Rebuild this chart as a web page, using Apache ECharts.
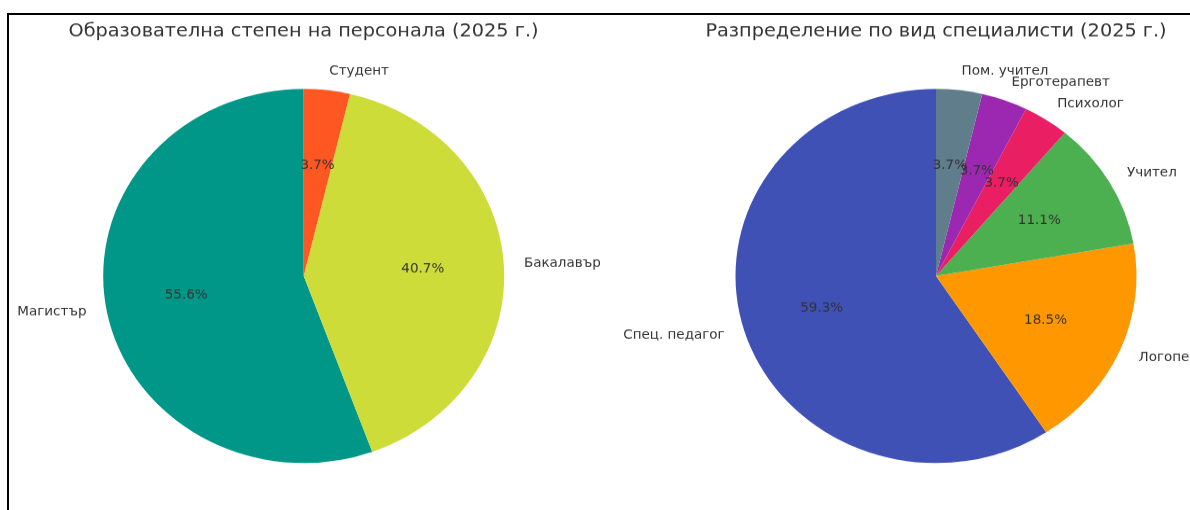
<!DOCTYPE html>
<html>
<head>
<meta charset="utf-8">
<script src="https://cdn.jsdelivr.net/npm/echarts@6/dist/echarts.min.js"></script>
<style>
  html, body { margin: 0; padding: 0; background: #fff; overflow: hidden; }
  #wrap { position: relative; width: 1190px; height: 510px; overflow: hidden; }
  #chart { position: absolute; left: 0; top: 0; width: 1190px; height: 547px; transform: scaleY(0.933); transform-origin: 0 0; }
  #frame { position: absolute; left: 7px; top: 13px; width: 1300px; height: 600px; border-left: 2px solid #000; border-top: 2.5px solid #000; pointer-events: none; }
</style>
</head>
<body>
<div id="wrap">
  <div id="chart"></div>
  <div id="frame"></div>
</div>
<script>
// ---- data ----
const titleEducation = 'Образователна степен на персонала (2025 г.)';
const titleSpecialists = 'Разпределение по вид специалисти (2025 г.)';

const educationLabels = ['Магистър', 'Бакалавър', 'Студент'];
const educationValues = [15, 11, 1];
const educationColors = ['#009688', '#CDDC39', '#FF5722'];

const specialistLabels = ['Спец. педагог', 'Логопед', 'Учител', 'Психолог', 'Ерготерапевт', 'Пом. учител'];
const specialistValues = [16, 5, 3, 1, 1, 1];
const specialistColors = ['#3F51B5', '#FF9800', '#4CAF50', '#E91E63', '#9C27B0', '#607D8B'];

// ---- layout ----
const R = 200.5;
const CY = 295.8;
const FONT = 'DejaVu Sans';

function pieSeries(labels, values, colors, cx) {
  const total = values.reduce((a, b) => a + b, 0);
  const data = labels.map((n, i) => ({ name: n, value: values[i], itemStyle: { color: colors[i] } }));
  const common = {
    type: 'pie',
    center: [cx, CY],
    startAngle: 90,
    clockwise: false,
    avoidLabelOverlap: false,
    animation: false,
    emphasis: { disabled: true },
    labelLayout: { hideOverlap: false },
    percentPrecision: 1
  };
  return [
    Object.assign({}, common, {
      radius: [0, R],
      data: data,
      itemStyle: { borderWidth: 0 },
      label: {
        show: true, position: 'outside', formatter: '{b}',
        color: '#333', fontFamily: FONT, fontSize: 13.5,
        distanceToLabelLine: 0, overflow: 'none'
      },
      labelLine: { show: false, length: R * 0.1, length2: 0 }
    }),
    Object.assign({}, common, {
      radius: [R * 0.2 - 8, R],
      silent: true,
      z: 5,
      data: labels.map((n, i) => ({ name: n, value: values[i], itemStyle: { color: 'rgba(0,0,0,0)' } })),
      itemStyle: { borderWidth: 0 },
      label: {
        show: true, position: 'inside',
        formatter: p => (p.value / total * 100).toFixed(1) + '%',
        color: '#333', fontFamily: FONT, fontSize: 13.5
      },
      labelLine: { show: false }
    })
  ];
}

const chart = echarts.init(document.getElementById('chart'), null, { renderer: 'canvas' });
chart.setOption({
  backgroundColor: '#fff',
  animation: false,
  title: [
    { text: titleEducation, left: 298.5, top: 19, textAlign: 'center',
      textStyle: { fontFamily: FONT, fontSize: 19.3, fontWeight: 'normal', color: '#333' } },
    { text: titleSpecialists, left: 931, top: 19, textAlign: 'center',
      textStyle: { fontFamily: FONT, fontSize: 19.3, fontWeight: 'normal', color: '#333' } }
  ],
  series: [].concat(
    pieSeries(educationLabels, educationValues, educationColors, 303.7),
    pieSeries(specialistLabels, specialistValues, specialistColors, 936)
  )
});
</script>
</body>
</html>
